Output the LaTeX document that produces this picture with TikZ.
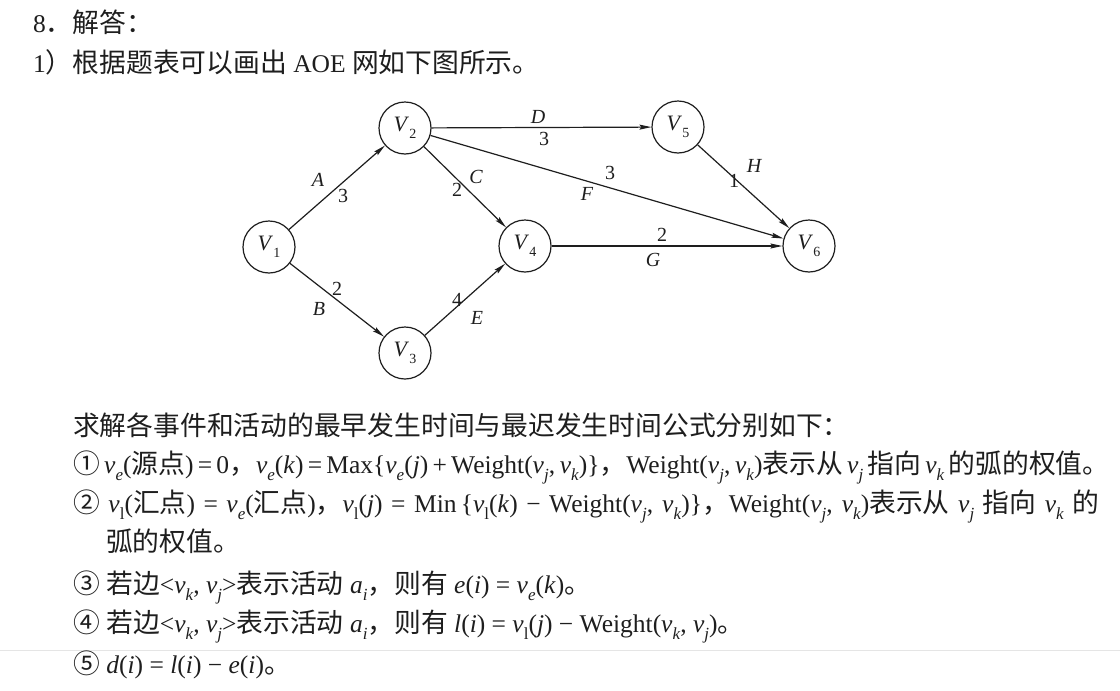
\documentclass[tikz,border=0pt]{standalone}
\usepackage{fontspec}
\setmainfont{Liberation Serif}
\newfontfamily\cjk[Scale=1.05]{Noto Sans CJK SC}
\usetikzlibrary{arrows.meta}
\definecolor{ink}{HTML}{1E1E1E}
\newcommand\zh[1]{{\cjk #1}}
\newcommand\lsub[1]{\raisebox{-0.28em}{\fontsize{17}{17}\selectfont #1}}
\newcommand\vv[1]{\textit{v}\lsub{\textit{#1}}}
\newcommand\vlow{\textit{v}\lsub{l}}
\newcommand\vsub[1]{\raisebox{-0.3em}{\fontsize{14}{14}\selectfont #1}}
\newcommand\VV[1]{\textit{V}\vsub{#1}}
\begin{document}
\begin{tikzpicture}[x=1pt,y=-1pt,
  vert/.style={circle, draw=ink, line width=1.2pt, minimum size=52pt, inner sep=0pt, text=ink, font=\fontsize{22}{22}\selectfont},
  edge/.style={draw=ink, line width=1.2pt, -{Stealth[length=12pt,width=5pt,inset=2pt]}},
  lab/.style={inner sep=0pt, text=ink, font=\fontsize{20}{20}\selectfont\itshape},
  num/.style={inner sep=0pt, text=ink, font=\fontsize{20}{20}\selectfont},
  txt/.style={anchor=base west, inner sep=0pt, text=ink, font=\fontsize{25.5}{25.5}\selectfont}]
\useasboundingbox (0,0) rectangle (1120,691);
\fill[white] (0,0) rectangle (1120,691);

% header text
\node[txt] (t1) at (33,32) {8\zh{．解答：}};
\node[txt] (t2) at (33,72) {1\zh{）根据题表可以画出} AOE \zh{网如下图所示。}};

% graph
\node[vert] (v1) at (269,247) {\VV{1}};
\node[vert] (v2) at (405,128) {\VV{2}};
\node[vert] (v3) at (405,353) {\VV{3}};
\node[vert] (v4) at (525,246) {\VV{4}};
\node[vert] (v5) at (678,127) {\VV{5}};
\node[vert] (v6) at (809,246) {\VV{6}};

\draw[edge] (v1) -- (v2);
\draw[edge] (v1) -- (v3);
\draw[edge] (v2) -- (v4);
\draw[edge] (v3) -- (v4);
\draw[edge] (v2) -- (v5);
\draw[edge] (v2) -- (v6);
\draw[edge] (v5) -- (v6);
\draw[edge] (v4) -- (v6);

\node[lab] (lA) at (318,180) {A};
\node[num] (nA) at (343,196) {3};
\node[lab] (lB) at (319,309) {B};
\node[num] (nB) at (337,289) {2};
\node[lab] (lC) at (476,177) {C};
\node[num] (nC) at (457,190) {2};
\node[lab] (lD) at (538,117) {D};
\node[num] (nD) at (544,139) {3};
\node[lab] (lE) at (477,318) {E};
\node[num] (nE) at (457,300) {4};
\node[lab] (lF) at (587,194) {F};
\node[num] (nF) at (610,173) {3};
\node[lab] (lG) at (653,260) {G};
\node[num] (nG) at (662,235) {2};
\node[lab] (lH) at (754,166) {H};
\node[num] (nH) at (734,181) {1};

% scan seam
\draw[black!10, line width=1pt] (0,650) -- (1120,650);

% formulas
\node[txt] (t3) at (73,435) {\zh{求解各事件和活动的最早发生时间与最迟发生时间公式分别如下：}};
\node[txt] (t4) at (73,473) {\makebox[1032pt][s]{\zh{①} \vv{e}(\zh{源点}) = 0\zh{，}\vv{e}(\textit{k}) = Max\{\vv{e}(\textit{j}) + Weight(\vv{j}, \vv{k})\}\zh{，}Weight(\vv{j}, \vv{k})\zh{表示从} \vv{j} \zh{指向} \vv{k} \zh{的弧的权值。}}};
\node[txt] (t5) at (73,512) {\makebox[1026pt][s]{\zh{②} \vlow(\zh{汇点}) = \vv{e}(\zh{汇点})\zh{，}\vlow(\textit{j}) = Min\,\{\vlow(\textit{k}) − Weight(\vv{j}, \vv{k})\}\zh{，}Weight(\vv{j}, \vv{k})\zh{表示从} \vv{j} \zh{指向} \vv{k} \zh{的}}};
\node[txt] (t6) at (106,551) {\zh{弧的权值。}};
\node[txt] (t7) at (73,593) {\zh{③} \zh{若边}<\vv{k}, \vv{j}>\zh{表示活动} \textit{a}\lsub{\textit{i}}\zh{，则有} \textit{e}(\textit{i}) = \vv{e}(\textit{k})\zh{。}};
\node[txt] (t8) at (73,632) {\zh{④} \zh{若边}<\vv{k}, \vv{j}>\zh{表示活动} \textit{a}\lsub{\textit{i}}\zh{，则有} \textit{l}(\textit{i}) = \vlow(\textit{j}) − Weight(\vv{k}, \vv{j})\zh{。}};
\node[txt] (t9) at (73,673) {\zh{⑤} \textit{d}(\textit{i}) = \textit{l}(\textit{i}) − \textit{e}(\textit{i})\zh{。}};
\end{tikzpicture}
\end{document}
